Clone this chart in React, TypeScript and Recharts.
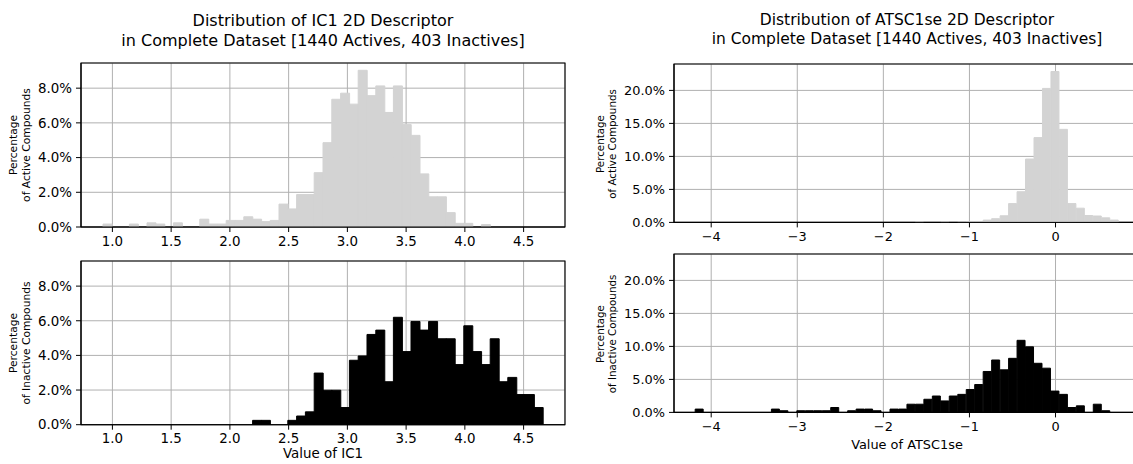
import React from 'react';
import { ComposedChart, Bar, XAxis, YAxis, CartesianGrid, ReferenceArea } from 'recharts';

const FONT = '"DejaVu Sans", "Liberation Sans", sans-serif';

// min / max of each descriptor, split into equal-width bins
const ic1Range = [0.92, 4.665];
const atscRange = [-4.186, 0.734];
const binCount = 50;

// percentage of compounds falling in each bin
const ic1Active = [
  0.17, 0, 0, 0.17, 0, 0.24, 0.17, 0, 0.24, 0,
  0, 0.45, 0.17, 0.17, 0.38, 0.38, 0.59, 0.45, 0.31, 0.38,
  1.32, 1.04, 1.87, 1.87, 3.13, 4.86, 7.36, 7.71, 7.08, 9.03,
  7.57, 8.13, 6.6, 8.13, 5.9, 5.28, 3.06, 1.74, 1.74, 0.83,
  0.21, 0.21, 0, 0.14, 0, 0, 0, 0, 0, 0,
];
const ic1Inactive = [
  0, 0, 0, 0, 0, 0, 0, 0, 0, 0,
  0, 0, 0, 0, 0, 0, 0, 0.25, 0.25, 0,
  0, 0.25, 0.5, 0.74, 2.98, 1.99, 1.99, 0.99, 3.72, 3.97,
  5.21, 5.46, 2.48, 6.2, 4.22, 5.96, 5.46, 5.96, 4.96, 4.96,
  3.47, 5.71, 4.22, 3.47, 4.96, 2.48, 2.73, 1.74, 1.74, 0.99,
];
const atscActive = [
  0, 0, 0, 0, 0, 0, 0, 0, 0, 0,
  0, 0, 0, 0, 0, 0, 0, 0, 0, 0,
  0, 0, 0, 0, 0, 0, 0.07, 0, 0, 0.07,
  0, 0.07, 0.14, 0.14, 0.35, 0.56, 1.0, 2.85, 4.65, 9.6,
  12.85, 20.3, 22.86, 14.1, 2.85, 2.15, 1.04, 0.97, 0.69, 0.35,
];
const atscInactive = [
  0.5, 0, 0, 0, 0, 0, 0, 0, 0, 0.5,
  0.25, 0, 0.25, 0.25, 0.25, 0.25, 0.74, 0, 0.25, 0.5,
  0.5, 0.25, 0, 0.5, 0.5, 1.24, 1.24, 1.99, 2.48, 1.74,
  2.48, 2.73, 3.47, 4.22, 6.2, 7.94, 6.45, 8.19, 10.92, 9.93,
  7.44, 6.7, 3.23, 2.73, 0.74, 0.99, 0, 1.24, 0.25, 0,
];

const ic1Ticks = [1.0, 1.5, 2.0, 2.5, 3.0, 3.5, 4.0, 4.5];
const ic1PctTicks = [0, 2, 4, 6, 8];
const atscTicks = [-4, -3, -2, -1, 0];
const atscPctTicks = [0, 5, 10, 15, 20];

const binCenters = (range: number[]) => {
  const w = (range[1] - range[0]) / binCount;
  return Array.from({ length: binCount }, (_, i) => range[0] + w * (i + 0.5));
};

// matplotlib-style 5% padding around the data
const padded = (range: number[]): [number, number] => {
  const m = (range[1] - range[0]) * 0.05;
  return [range[0] - m, range[1] + m];
};

const pct = (v: number) => `${v.toFixed(1)}%`;
const decimal = (v: number) => v.toFixed(1);
const signed = (v: number) => (v < 0 ? `\u2212${Math.abs(v)}` : `${v}`);

interface PanelProps {
  left: number;
  top: number;
  width: number;
  height: number;
  range: number[];
  values: number[];
  color: string;
  xTicks: number[];
  xFormat: (v: number) => string;
  yMax: number;
  yTicks: number[];
  fontSize: number;
}

const HistPanel: React.FC<PanelProps> = ({
  left, top, width, height, range, values, color, xTicks, xFormat, yMax, yTicks, fontSize,
}) => {
  const yAxisW = 80;
  const padTop = 10;
  const padRight = 10;
  const xAxisH = 30;
  const domainX = padded(range);
  const centers = binCenters(range);
  const data = centers.map((x, i) => ({ x, pct: values[i] }));

  return (
    <div style={{ position: 'absolute', left: left - yAxisW, top: top - padTop }}>
      <ComposedChart
        width={yAxisW + width + padRight}
        height={padTop + height + xAxisH}
        data={data}
        margin={{ top: padTop, right: padRight, bottom: 0, left: 0 }}
        barCategoryGap={0}
        barGap={0}
      >
        <XAxis
          type="number"
          dataKey="x"
          domain={domainX}
          ticks={xTicks}
          interval={0}
          allowDataOverflow
          height={xAxisH}
          tickSize={5}
          tickMargin={4}
          stroke="#000"
          tick={{ fill: '#000', fontSize }}
          tickFormatter={xFormat}
        />
        <YAxis
          type="number"
          domain={[0, yMax]}
          ticks={yTicks}
          interval={0}
          allowDataOverflow
          width={yAxisW}
          tickSize={5}
          tickMargin={4}
          stroke="#000"
          tick={{ fill: '#000', fontSize }}
          tickFormatter={pct}
        />
        {/* bar widths get rounded down to whole pixels; a same-colour outline closes the gaps between bins */}
        <Bar dataKey="pct" fill={color} stroke={color} strokeWidth={1} isAnimationActive={false} />
        <CartesianGrid stroke="#b0b0b0" strokeWidth={1} />
        <ReferenceArea
          x1={domainX[0]}
          x2={domainX[1]}
          y1={0}
          y2={yMax}
          fill="none"
          fillOpacity={0}
          stroke="#000"
          strokeWidth={1.1}
        />
      </ComposedChart>
    </div>
  );
};

const Title: React.FC<{ cx: number; top: number; size: number; lines: string[] }> = ({ cx, top, size, lines }) => (
  <div
    style={{
      position: 'absolute',
      left: cx,
      top,
      transform: 'translateX(-50%)',
      fontSize: size,
      lineHeight: `${size * 1.25}px`,
      textAlign: 'center',
      whiteSpace: 'nowrap',
    }}
  >
    {lines.map((l) => <div key={l}>{l}</div>)}
  </div>
);

const YLabel: React.FC<{ cx: number; cy: number; size: number; lines: string[] }> = ({ cx, cy, size, lines }) => (
  <div
    style={{
      position: 'absolute',
      left: cx,
      top: cy,
      transform: 'translate(-50%, -50%) rotate(-90deg)',
      fontSize: size,
      lineHeight: `${size * 1.2}px`,
      textAlign: 'center',
      whiteSpace: 'nowrap',
    }}
  >
    {lines.map((l) => <div key={l}>{l}</div>)}
  </div>
);

const XLabel: React.FC<{ cx: number; cy: number; size: number; text: string }> = ({ cx, cy, size, text }) => (
  <div
    style={{
      position: 'absolute',
      left: cx,
      top: cy,
      transform: 'translate(-50%, -50%)',
      fontSize: size,
      whiteSpace: 'nowrap',
    }}
  >
    {text}
  </div>
);

export default function App() {
  const subtitle = 'in Complete Dataset [1440 Actives, 403 Inactives]';
  const rightW = 1140.2 - 674.3;
  return (
    <div
      style={{
        position: 'absolute',
        left: 0,
        top: 0,
        width: 1133,
        height: 464,
        overflow: 'hidden',
        background: '#fff',
        fontFamily: FONT,
        color: '#000',
      }}
    >
      <Title cx={323} top={11} size={16} lines={['Distribution of IC1 2D Descriptor', subtitle]} />
      <Title cx={907} top={11} size={15.5} lines={['Distribution of ATSC1se 2D Descriptor', subtitle]} />

      <HistPanel
        left={81} top={63} width={484} height={164}
        range={ic1Range} values={ic1Active} color="#d3d3d3"
        xTicks={ic1Ticks} xFormat={decimal} yMax={9.45} yTicks={ic1PctTicks} fontSize={13.4}
      />
      <HistPanel
        left={81} top={260.7} width={484} height={163.7}
        range={ic1Range} values={ic1Inactive} color="#000"
        xTicks={ic1Ticks} xFormat={decimal} yMax={9.45} yTicks={ic1PctTicks} fontSize={13.4}
      />
      <HistPanel
        left={674.3} top={64.3} width={rightW} height={158.4}
        range={atscRange} values={atscActive} color="#d3d3d3"
        xTicks={atscTicks} xFormat={signed} yMax={24} yTicks={atscPctTicks} fontSize={12.9}
      />
      <HistPanel
        left={674.3} top={254.3} width={rightW} height={158.4}
        range={atscRange} values={atscInactive} color="#000"
        xTicks={atscTicks} xFormat={signed} yMax={24} yTicks={atscPctTicks} fontSize={12.9}
      />

      <YLabel cx={21} cy={145} size={10.7} lines={['Percentage', 'of Active Compounds']} />
      <YLabel cx={21} cy={342.5} size={10.7} lines={['Percentage', 'of Inactive Compounds']} />
      <YLabel cx={606} cy={143.5} size={10.3} lines={['Percentage', 'of Active Compounds']} />
      <YLabel cx={606} cy={333.5} size={10.3} lines={['Percentage', 'of Inactive Compounds']} />

      <XLabel cx={323} cy={453} size={13.4} text="Value of IC1" />
      <XLabel cx={907} cy={444} size={12.9} text="Value of ATSC1se" />
    </div>
  );
}
